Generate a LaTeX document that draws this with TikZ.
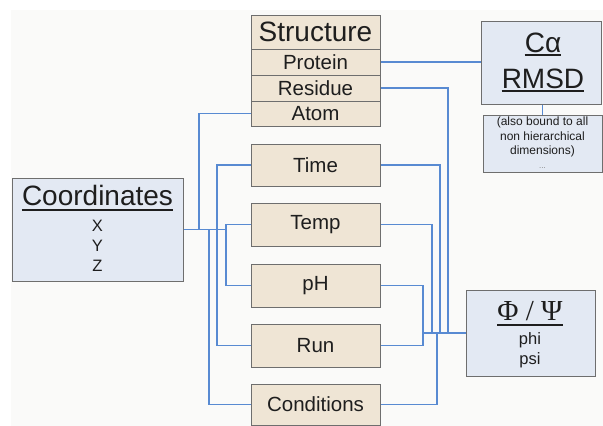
\documentclass[tikz,border=0pt]{standalone}
\usepackage{fontspec}
\setmainfont{Liberation Sans}
\newfontfamily\serifgreek{Liberation Serif}
\definecolor{wire}{RGB}{88,138,210}
\definecolor{tanfill}{RGB}{239,229,213}
\definecolor{bluefill}{RGB}{227,233,243}
\definecolor{edge}{RGB}{110,110,110}
\definecolor{ink}{RGB}{30,30,30}
\definecolor{paper}{RGB}{250,250,249}
\begin{document}
\begin{tikzpicture}[x=1pt,y=-1pt,
  tanbox/.style={draw=edge,line width=1pt,fill=tanfill,minimum width=129pt,inner sep=0pt,text=ink,font=\fontsize{20.5}{24}\selectfont},
  bluebox/.style={draw=edge,line width=1pt,fill=bluefill,inner sep=0pt},
  txt/.style={inner sep=0pt,text=ink},
  wirestyle/.style={draw=wire,line width=1.5pt},
  uline/.style={draw=ink,line width=1.1pt}]
\useasboundingbox (0,0) rectangle (603,426);
\fill[paper] (11,10) rectangle (603,426);
% structure stack
\node[tanbox,minimum height=34pt,font=\fontsize{28}{30}\selectfont] (struct) at (315.5,32) {Structure};
\node[tanbox,minimum height=26pt] (protein) at (315.5,62) {Protein};
\node[tanbox,minimum height=26pt] (residue) at (315.5,88) {Residue};
\node[tanbox,minimum height=25pt] (atom) at (315.5,113.5) {Atom};
% dimension boxes
\node[tanbox,minimum height=42pt] (time) at (315.5,165) {Time};
\node[tanbox,minimum height=43pt] (temp) at (315.5,224.5) {Temp};
\node[tanbox,minimum height=43pt] (ph) at (315.5,285.5) {pH};
\node[tanbox,minimum height=43pt] (run) at (315.5,345.5) {Run};
\node[tanbox,minimum height=41pt] (cond) at (315.5,404.5) {Conditions};
% coordinates
\node[bluebox,minimum width=171pt,minimum height=103pt] (coord) at (97.5,229.5) {};
\node[txt,font=\fontsize{28}{30}\selectfont,anchor=base] (coordt) at (97.5,205) {Coordinates};
\draw[uline] ([yshift=-5pt]coordt.base west) -- ([yshift=-5pt]coordt.base east);
\node[txt,font=\fontsize{16.5}{20}\selectfont,align=center] (xyz) at (97.5,246) {X\\Y\\Z};
% RMSD
\node[bluebox,minimum width=120pt,minimum height=83pt] (rmsd) at (541,62.5) {};
\node[txt,font=\fontsize{28}{30}\selectfont,anchor=base] (ca) at (543,52) {Cα};
\node[txt,font=\fontsize{28}{30}\selectfont,anchor=base] (rmsdt) at (543,88) {RMSD};
\draw[uline] ([yshift=-3pt]ca.base west) -- ([yshift=-3pt]ca.base east);
\draw[uline] ([yshift=-3pt]rmsdt.base west) -- ([yshift=-3pt]rmsdt.base east);
\node[bluebox,minimum width=119pt,minimum height=57pt] (sub) at (542.5,143.5) {};
\node[txt,font=\fontsize{12}{14.5}\selectfont,align=center,anchor=north] (subt) at (542.5,117) {(also bound to all\\non hierarchical\\dimensions)\\[-1pt]{\fontsize{8}{8}\selectfont\color{gray}...}};
% phi psi
\node[bluebox,minimum width=129pt,minimum height=86pt] (phi) at (530.5,333) {};
\node[txt,font=\serifgreek\fontsize{29}{30}\selectfont,anchor=base] (phit) at (530,320) {Φ / Ψ};
\draw[uline] ([yshift=-5pt]phit.base west) -- ([yshift=-5pt]phit.base east);
\node[txt,font=\fontsize{16.5}{20}\selectfont,align=center] (phips) at (530,350) {phi\\psi};
% connectors right
\draw[wirestyle] (protein.east) -- (rmsd.west |- protein.east);
\draw[wirestyle] (rmsd.south -| sub.north) -- (sub.north);
\coordinate (hub) at (423,333);
\draw[wirestyle] (residue.east) -| (448,333);
\draw[wirestyle] (time.east) -| (440,333);
\draw[wirestyle] (temp.east) -| (432,333);
\draw[wirestyle] (cond.east) -| (437,333);
\draw[wirestyle] (ph.east) -| (hub);
\draw[wirestyle] (run.east) -| (hub);
\draw[wirestyle] (hub) -- (phi.west);
% connectors left
\coordinate (cj) at (226,229.5);
\draw[wirestyle] (coord.east) -- (cj);
\draw[wirestyle] (atom.west) -| (199,229.5);
\draw[wirestyle] (time.west) -| (217,345.5) -- (run.west);
\draw[wirestyle] (temp.west) -| (226,285.5) -- (ph.west);
\draw[wirestyle] (cond.west) -| (209,229.5);
\end{tikzpicture}
\end{document}
